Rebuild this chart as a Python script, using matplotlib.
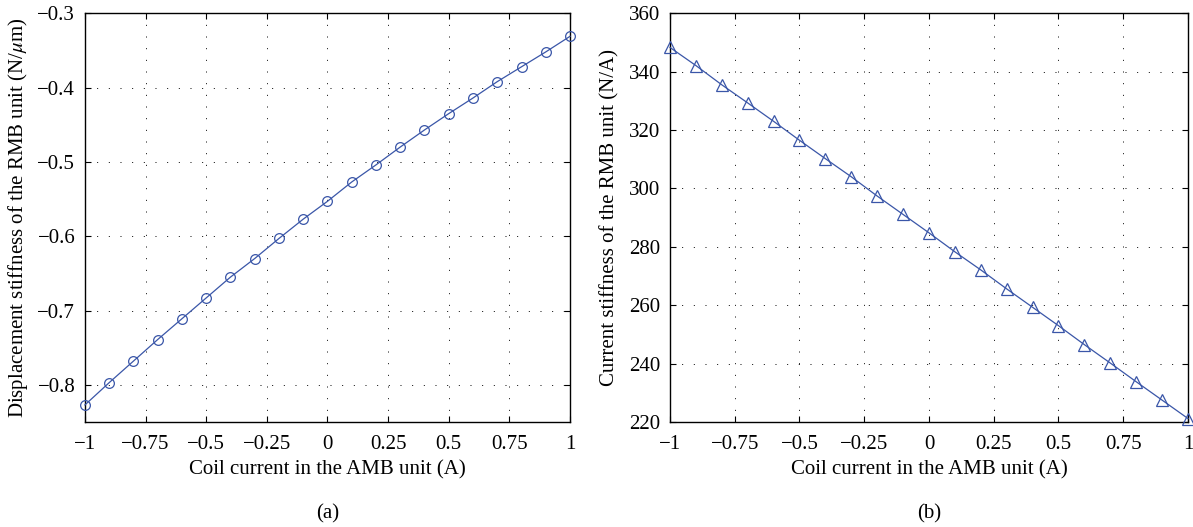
import matplotlib
matplotlib.use('Agg')
import matplotlib.pyplot as plt
import numpy as np

plt.rcParams['font.family'] = ['Liberation Serif', 'DejaVu Serif']
plt.rcParams['mathtext.fontset'] = 'stix'

current = [-1.0, -0.9, -0.8, -0.7, -0.6, -0.5, -0.4, -0.3, -0.2, -0.1,
           0.0, 0.1, 0.2, 0.3, 0.4, 0.5, 0.6, 0.7, 0.8, 0.9, 1.0]
disp_stiffness = [-0.827, -0.797, -0.768, -0.739, -0.711, -0.683, -0.655, -0.630,
                  -0.603, -0.577, -0.553, -0.527, -0.504, -0.480, -0.457, -0.435,
                  -0.414, -0.392, -0.372, -0.352, -0.331]
curr_stiffness = [348.3, 342.1, 335.5, 329.3, 323.0, 316.5, 310.2, 304.0, 297.4,
                  291.1, 284.8, 278.3, 272.1, 265.6, 259.3, 253.0, 246.5, 240.2,
                  233.8, 227.5, 221.2]

xticks = [-1, -0.75, -0.5, -0.25, 0, 0.25, 0.5, 0.75, 1]
xticklabels = ['\u22121', '\u22120.75', '\u22120.5', '\u22120.25', '0', '0.25', '0.5', '0.75', '1']
yticks_a = [-0.8, -0.7, -0.6, -0.5, -0.4, -0.3]
yticks_b = [220, 240, 260, 280, 300, 320, 340, 360]

blue = '#3a56a8'
fs = 15
ymid = 1 - 217.5 / 527

fig = plt.figure(figsize=(11.93, 5.27), dpi=100)
ax1 = fig.add_axes([0.0712, 0.1992, 0.4066, 0.7756])
ax2 = fig.add_axes([0.5616, 0.1992, 0.4342, 0.7756])

def style(ax, xc):
    ax.set_xlim(-1, 1)
    ax.set_xticks(xticks)
    ax.set_xticklabels(xticklabels)
    ax.tick_params(direction='in', length=4, width=0.8, top=True, right=True,
                   labelsize=fs, pad=7)
    ax.tick_params(axis='x', pad=9)
    ax.grid(True, color='black', linestyle=(0, (1, 11)), linewidth=0.7)
    for s in ax.spines.values():
        s.set_linewidth(1.0)
    ax.set_xlabel('Coil current in the AMB unit (A)', fontsize=fs, va='center')
    ax.xaxis.set_label_coords(xc, 1 - 470 / 527, transform=fig.transFigure)

ax1.plot(current, disp_stiffness, color=blue, linewidth=0.9, marker='o',
         markersize=7, markerfacecolor='none', markeredgewidth=0.9, clip_on=False, zorder=3)
style(ax1, 0.2745)
ax1.set_ylim(-0.85, -0.3)
ax1.set_yticks(yticks_a)
ax1.set_yticklabels(['\u2212%.1f' % abs(v) for v in yticks_a])
ax1.set_ylabel('Displacement stiffness of the RMB unit (N/$\\mu$m)', fontsize=fs, va='center')
ax1.yaxis.set_label_coords(18 / 1193, ymid, transform=fig.transFigure)

ax2.plot(current, curr_stiffness, color=blue, linewidth=0.9, marker='^',
         markersize=8, markerfacecolor='none', markeredgewidth=0.9, clip_on=False, zorder=3)
style(ax2, 0.7787)
ax2.set_ylim(220, 360)
ax2.set_yticks(yticks_b)
ax2.set_ylabel('Current stiffness of the RMB unit (N/A)', fontsize=fs, va='center')
ax2.yaxis.set_label_coords(610 / 1193, ymid, transform=fig.transFigure)

fig.text(0.2745, 1 - 514 / 527, '(a)', ha='center', va='center', fontsize=fs)
fig.text(0.7787, 1 - 514 / 527, '(b)', ha='center', va='center', fontsize=fs)

fig.savefig('out.png', dpi=100)
